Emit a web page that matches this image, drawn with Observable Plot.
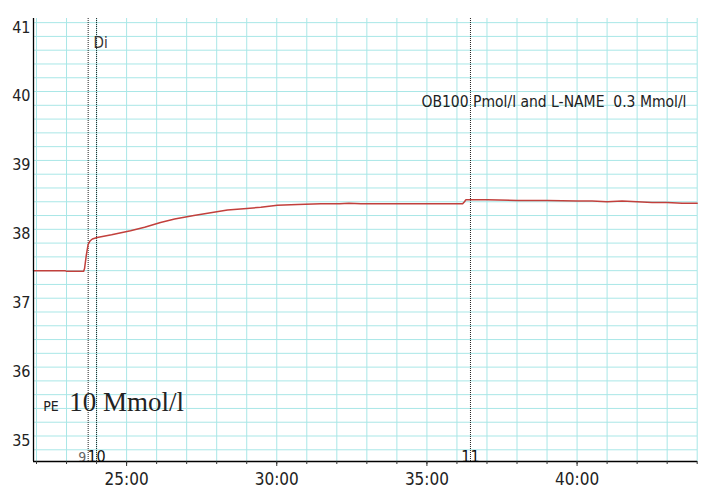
<!DOCTYPE html>
<html>
<head>
<meta charset="utf-8">
<script src="https://cdn.jsdelivr.net/npm/d3@7"></script>
<script src="https://cdn.jsdelivr.net/npm/@observablehq/plot@0.6"></script>
<style>
  html, body { margin: 0; padding: 0; background: #fff; }
  #chart { width: 720px; height: 488px; }
</style>
</head>
<body>
<div id="chart"></div>
<script>
// ---- data (time in minutes, value in trace units) ----
const traceTime = [21.9, 22.95, 23.0, 23.57, 23.60, 23.66, 23.72, 23.78, 23.86, 24.02, 24.5, 25.13, 25.6, 26.13, 26.6, 27.24, 27.8, 28.36, 28.9, 29.47, 30.02, 30.7, 31.47, 32.1, 32.4, 32.8, 33.5, 34.5, 35.5, 36.19, 36.25, 36.30, 37.0, 38.0, 39.0, 40.0, 40.5, 41.0, 41.5, 42.0, 42.5, 43.0, 43.5, 44.0];
const traceValue = [37.47, 37.47, 37.46, 37.46, 37.50, 37.70, 37.85, 37.90, 37.93, 37.95, 37.99, 38.05, 38.10, 38.17, 38.22, 38.27, 38.31, 38.35, 38.37, 38.39, 38.42, 38.43, 38.44, 38.44, 38.45, 38.44, 38.44, 38.44, 38.44, 38.44, 38.47, 38.50, 38.50, 38.49, 38.49, 38.48, 38.48, 38.47, 38.48, 38.47, 38.46, 38.46, 38.45, 38.45];

const markerTimes = [23.72, 24.0, 36.45];
const markerLabels = ["9", "10", "11"];

const commentDi = "Di";
const commentOB = "OB100 Pmol/l and L-NAME  0.3 Mmol/l";
const commentPE = "PE";
const commentPEdose = "10 Mmol/l";

const xDomain = [21.9, 44.01];
const yDomain = [34.70, 41.13];
const yTicks = [35, 36, 37, 38, 39, 40, 41];
const xMajorTicks = [25, 30, 35, 40];
const xMinorTicks = d3.range(22, 45, 1);
const gridMinutes = d3.range(22, 45, 1);
const gridValues = d3.range(0, 32).map(i => 34.87 + 0.2 * i);

// ---- table ----
const trace = traceTime.map((t, i) => ({t, v: traceValue[i]}));
const markers = markerTimes.map((t, i) => ({t, label: markerLabels[i]}));

const sans = "'DejaVu Sans Condensed', 'DejaVu Sans', sans-serif";
const gridColor = "#a9e7e7";

const chart = Plot.plot({
  width: 720,
  height: 488,
  marginLeft: 33,
  marginRight: 23,
  marginTop: 18,
  marginBottom: 27,
  style: {background: "#fff", fontFamily: sans, color: "#222"},
  x: {domain: xDomain, label: null},
  y: {domain: yDomain, label: null},
  marks: [
    Plot.ruleX(gridMinutes, {stroke: gridColor, strokeWidth: 1}),
    Plot.ruleY(gridValues, {stroke: gridColor, strokeWidth: 1}),
    Plot.ruleX(markers, {x: "t", stroke: "#222", strokeWidth: 1, strokeDasharray: "1,1"}),
    Plot.line(trace, {x: "t", y: "v", stroke: "#c2403c", strokeWidth: 1.5}),
    // comments
    Plot.text([commentDi], {x: () => markerTimes[1], text: d => d, frameAnchor: "top", dy: 19, dx: -3, textAnchor: "start", fontSize: 15, fill: "#333"}),
    Plot.text([commentOB], {x: () => markerTimes[2], text: d => d, frameAnchor: "top", dy: 77, dx: -49, textAnchor: "start", fontSize: 15.5, fill: "#222"}),
    Plot.text([commentPE], {x: () => markerTimes[0], text: d => d, frameAnchor: "bottom", dy: -51, dx: -45, textAnchor: "start", lineAnchor: "bottom", fontSize: 14, fill: "#222"}),
    Plot.text([commentPEdose], {x: () => markerTimes[0], text: d => d, frameAnchor: "bottom", dy: -51, dx: -19, textAnchor: "start", lineAnchor: "bottom", fontSize: 27, fontFamily: "'Liberation Serif', 'Times New Roman', serif", fill: "#222"}),
    // marker numbers
    Plot.text(markers.filter(d => d.label === "9"), {x: "t", text: "label", frameAnchor: "bottom", dx: -6, textAnchor: "middle", lineAnchor: "bottom", fontSize: 14, fill: "#666"}),
    Plot.text(markers.filter(d => d.label !== "9"), {x: "t", text: "label", frameAnchor: "bottom", textAnchor: "middle", lineAnchor: "bottom", fontSize: 16, fill: "#111"}),
    // axes
    Plot.ruleX([xDomain[0]], {stroke: "#000", strokeWidth: 1.3}),
    Plot.ruleY([yDomain[0]], {stroke: "#000", strokeWidth: 1.3}),
    Plot.axisY(yTicks, {tickSize: 0, tickPadding: 3, fontSize: 16, tickFormat: d => String(d), label: null}),
    Plot.axisX(xMinorTicks, {tickSize: 3, tickFormat: () => "", stroke: "#333", label: null}),
    Plot.axisX(xMajorTicks, {tickSize: 5, tickPadding: 6, fontSize: 17, tickFormat: d => `${d}:00`, stroke: "#333", label: null})
  ]
});
document.getElementById("chart").appendChild(chart);
</script>
</body>
</html>
